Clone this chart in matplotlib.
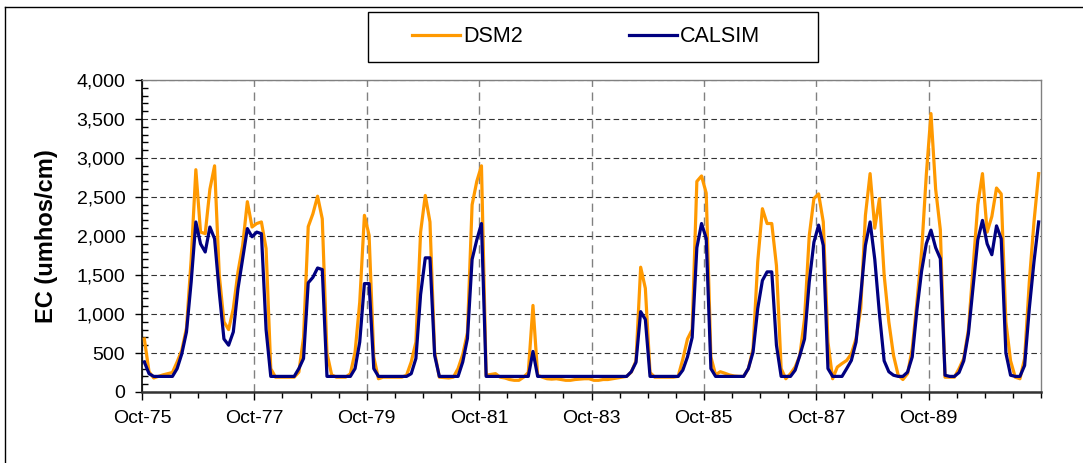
import matplotlib
matplotlib.use('Agg')
import matplotlib.pyplot as plt
from matplotlib.ticker import MultipleLocator, FuncFormatter
from matplotlib.patches import Rectangle
from matplotlib.lines import Line2D
import numpy as np

plt.rcParams['font.family'] = ['Liberation Sans', 'DejaVu Sans']

# monthly EC, Oct-75 .. Sep-91
dsm2 = [680, 260, 180, 200, 220, 235, 250, 385, 535, 820,
        1700, 2850, 2050, 2030, 2600, 2900, 1500, 900, 800, 1070,
        1540, 1880, 2440, 2115, 2160, 2180, 1840, 300, 190, 190,
        190, 190, 190, 255, 700, 2120, 2285, 2510, 2220, 500,
        220, 190, 190, 190, 235, 510, 1150, 2265, 2010, 450,
        170, 190, 190, 190, 190, 190, 215, 385, 640, 2050,
        2520, 2180, 510, 190, 185, 180, 190, 300, 480, 760,
        2400, 2700, 2900, 215, 225, 235, 190, 180, 160, 150,
        150, 190, 250, 1110, 215, 190, 170, 165, 170, 160,
        150, 150, 160, 165, 170, 170, 150, 150, 160, 160,
        170, 180, 190, 200, 255, 400, 1600, 1330, 250, 190,
        190, 190, 190, 190, 200, 420, 680, 800, 2700, 2770,
        2550, 450, 220, 260, 240, 218, 205, 200, 200, 300,
        555, 1670, 2350, 2160, 2160, 1620, 300, 170, 235, 320,
        470, 940, 2000, 2480, 2540, 2180, 640, 170, 320, 365,
        405, 490, 685, 1070, 2265, 2800, 2100, 2480, 1500, 900,
        470, 215, 160, 235, 555, 1150, 1800, 2780, 3570, 2600,
        2080, 190, 190, 190, 300, 430, 800, 1600, 2400, 2800,
        2050, 2250, 2615, 2540, 900, 400, 190, 170, 430, 1410,
        2180, 2800]

calsim = [385, 235, 200, 200, 200, 200, 200, 300, 490, 770,
          1410, 2180, 1900, 1795, 2115, 1965, 1280, 680, 600, 770,
          1325, 1710, 2095, 1990, 2050, 2030, 800, 200, 200, 200,
          200, 200, 200, 300, 430, 1400, 1470, 1590, 1570, 200,
          200, 200, 200, 200, 200, 300, 640, 1390, 1390, 300,
          200, 200, 200, 200, 200, 200, 200, 235, 430, 1250,
          1720, 1720, 470, 200, 200, 200, 200, 200, 385, 685,
          1700, 1950, 2160, 200, 200, 200, 200, 200, 200, 200,
          200, 200, 200, 520, 200, 200, 200, 200, 200, 200,
          200, 200, 200, 200, 200, 200, 200, 200, 200, 200,
          200, 200, 200, 200, 260, 380, 1030, 930, 200, 200,
          200, 200, 200, 200, 200, 280, 450, 700, 1850, 2160,
          1970, 300, 200, 200, 200, 200, 200, 200, 200, 300,
          510, 1070, 1430, 1540, 1540, 600, 200, 200, 200, 280,
          470, 680, 1410, 1920, 2140, 1880, 300, 200, 200, 200,
          300, 405, 640, 1240, 1880, 2180, 1700, 1000, 400, 260,
          215, 200, 200, 255, 450, 1050, 1550, 1900, 2075, 1850,
          1710, 215, 200, 200, 250, 400, 750, 1350, 1950, 2200,
          1900, 1760, 2130, 1965, 500, 215, 200, 200, 340, 1070,
          1670, 2180]

tick_labels = ['Oct-75', 'Oct-77', 'Oct-79', 'Oct-81',
               'Oct-83', 'Oct-85', 'Oct-87', 'Oct-89']

months = np.arange(len(dsm2)) + 0.5

W, H = 1083, 463
fig = plt.figure(figsize=(W / 100, H / 100), dpi=100)
ax = fig.add_axes([142 / W, 1 - 392 / H, (1041 - 142) / W, (392 - 80) / H])

ax.plot(months, dsm2, color='#FF9900', lw=2.3, label='DSM2', zorder=3)
ax.plot(months, calsim, color='#000080', lw=2.3, label='CALSIM', zorder=4)

ax.set_xlim(0, 192)
ax.set_ylim(0, 4000)
ax.set_xticks(np.arange(0, 192, 24))
ax.set_xticklabels(tick_labels)
ax.xaxis.set_minor_locator(MultipleLocator(6))
ax.yaxis.set_major_locator(MultipleLocator(500))
ax.yaxis.set_minor_locator(MultipleLocator(100))
ax.yaxis.set_major_formatter(FuncFormatter(lambda v, p: f"{int(v):,}"))

ax.set_axisbelow(True)
ax.yaxis.grid(True, which='major', color='#333333', lw=0.8, ls=(0, (5, 3)))
ax.xaxis.grid(True, which='major', color='#808080', lw=1.0, ls=(0, (6, 4)))

ax.tick_params(axis='x', which='major', direction='out', length=6, width=1,
               pad=7, labelsize=14)
ax.tick_params(axis='x', which='minor', direction='out', length=4, width=1)
ax.tick_params(axis='y', which='major', direction='out', length=5, width=1,
               pad=7, labelsize=14)
ax.tick_params(axis='y', which='minor', direction='in', length=4, width=1)

for s in ('top', 'right'):
    ax.spines[s].set_color('#808080')
    ax.spines[s].set_linewidth(1)
ax.spines['left'].set_color('black')
ax.spines['left'].set_linewidth(1.2)
ax.spines['bottom'].set_color('#333333')
ax.spines['bottom'].set_linewidth(1.8)

ax.set_ylabel('EC (umhos/cm)', fontsize=17, fontweight='bold')
ax.yaxis.set_label_coords(-0.093, 0.5)

# legend
h, l = ax.get_legend_handles_labels()
fig.legend(h, l, loc='center', bbox_to_anchor=(586 / W, 1 - 37 / H), ncol=2,
           frameon=False, fontsize=15.5, handlelength=2.23, handletextpad=0.15,
           columnspacing=4.9)
fig.patches.append(Rectangle((368 / W, 1 - 62 / H), 450 / W, 50 / H,
                             transform=fig.transFigure, fill=False,
                             ec='black', lw=1))

# outer chart border
fig.add_artist(Line2D([5 / W, 5 / W], [0, 1 - 7 / H], transform=fig.transFigure,
                      color='black', lw=1))
fig.add_artist(Line2D([5 / W, 1], [1 - 7 / H, 1 - 7 / H], transform=fig.transFigure,
                      color='black', lw=1))

fig.savefig('out.png', dpi=100)
